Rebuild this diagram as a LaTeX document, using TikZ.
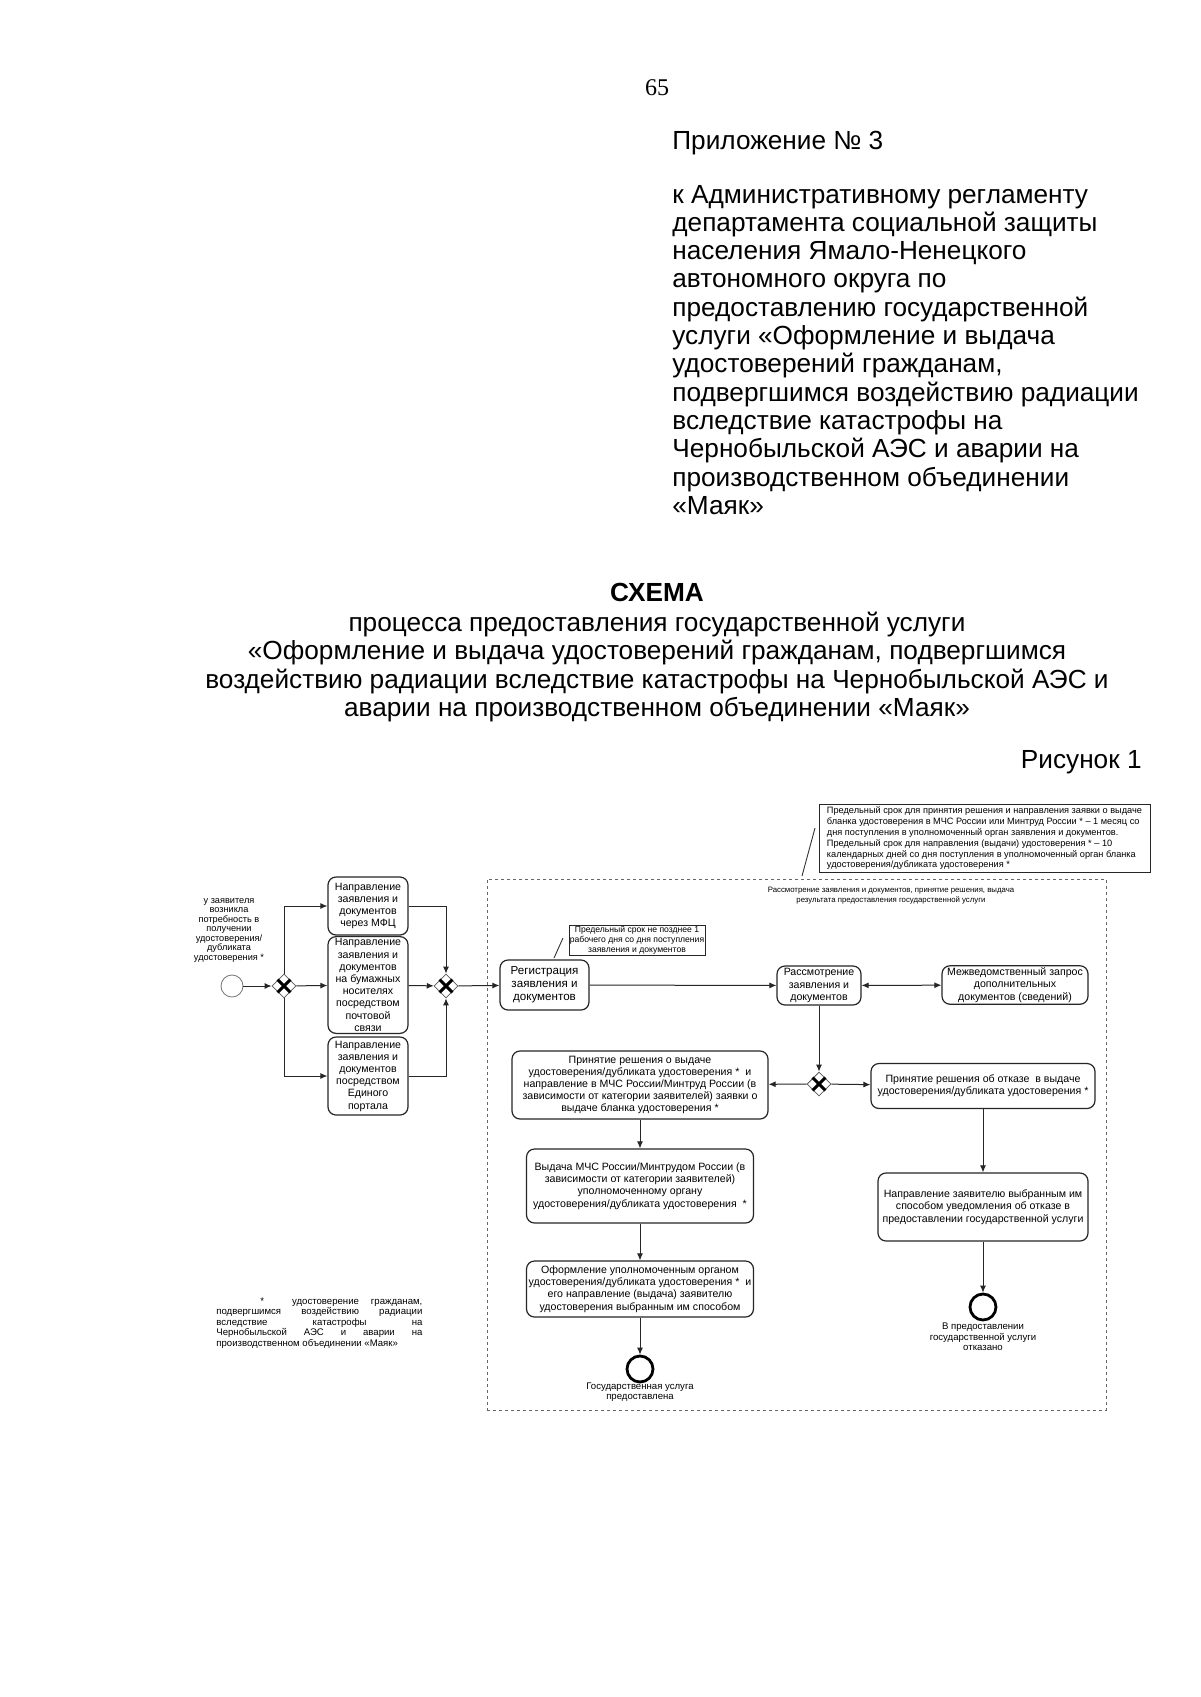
\documentclass[tikz,border=0pt]{standalone}
\usepackage{fontspec}
\setmainfont{Liberation Sans}
\newfontfamily\seriffnt{Liberation Serif}
\usetikzlibrary{shapes.geometric,arrows.meta}
\begin{document}
\begin{tikzpicture}[x=0.5pt,y=-0.5pt,
  hdr/.style={font=\fontsize{13.1}{14.15}\selectfont, inner sep=0pt, anchor=base west},
  ttl/.style={font=\fontsize{13.1}{14.15}\selectfont, inner sep=0pt, anchor=base},
  task/.style={draw=black!85, line width=0.6pt, rounded corners=4pt, align=center,
    font=\fontsize{5.3}{6.1}\selectfont, inner sep=1pt},
  gw/.style={draw=black!65, diamond, line width=0.4pt, minimum width=12pt, minimum height=12pt, inner sep=0pt},
  arr/.style={-{Latex[length=3.5pt,width=3pt]}, line width=0.5pt, draw=black!85},
  darr/.style={{Latex[length=3.5pt,width=3pt]}-{Latex[length=3.5pt,width=3pt]}, line width=0.5pt, draw=black!85},
  assoc/.style={line width=0.45pt, draw=black!80},
  note/.style={draw=black!85, line width=0.45pt, inner sep=1.5pt},
  small/.style={font=\fontsize{4.8}{5.3}\selectfont, inner sep=0pt, align=center},
  endev/.style={circle, draw=black, line width=1.4pt, minimum size=13pt, inner sep=0pt},
  xmark/.style={line width=1.5pt, line cap=butt}
]
\useasboundingbox[fill=white] (0,0) rectangle (1200,1697);

% ---------- header ----------
\node[font=\seriffnt\fontsize{12}{12}\selectfont, inner sep=0pt, anchor=base] (pg) at (657,95) {65};
\node[hdr] (app) at (672,149) {Приложение № 3};
\node[hdr] (p1) at (672,203) {к Административному регламенту};
\node[hdr] (p2) at (672,231.3) {департамента социальной защиты};
\node[hdr] (p3) at (672,259.6) {населения Ямало-Ненецкого};
\node[hdr] (p4) at (672,287.9) {автономного округа по};
\node[hdr] (p5) at (672,316.2) {предоставлению государственной};
\node[hdr] (p6) at (672,344.5) {услуги «Оформление и выдача};
\node[hdr] (p7) at (672,372.8) {удостоверений гражданам,};
\node[hdr] (p8) at (672,401.1) {подвергшимся воздействию радиации};
\node[hdr] (p9) at (672,429.4) {вследствие катастрофы на};
\node[hdr] (p10) at (672,457.7) {Чернобыльской АЭС и аварии на};
\node[hdr] (p11) at (672,486) {производственном объединении};
\node[hdr] (p12) at (672,514.3) {«Маяк»};

\node[ttl, font=\fontsize{13.1}{14.15}\selectfont\bfseries] (t0) at (657,601) {СХЕМА};
\node[ttl] (t1) at (657,631) {процесса предоставления государственной услуги};
\node[ttl] (t2) at (657,659) {«Оформление и выдача удостоверений гражданам, подвергшимся};
\node[ttl] (t3) at (657,688) {воздействию радиации вследствие катастрофы на Чернобыльской АЭС и};
\node[ttl] (t4) at (657,716) {аварии на производственном объединении «Маяк»};
\node[ttl, anchor=base east] (fig) at (1142,768) {Рисунок 1};

% ---------- group ----------
\node[draw=black!60, line width=0.4pt, dash pattern=on 1.6pt off 1.4pt, minimum width=309.5pt, minimum height=265.5pt, inner sep=0pt] (grp) at (796.5,1144.5) {};
\node[small, font=\fontsize{3.9}{4.9}\selectfont] (grplbl) at (891,896) {Рассмотрение заявления и документов, принятие решения, выдача\\результата предоставления государственной услуги};

% top note
\node[note, align=left, font=\fontsize{4.6}{5.4}\selectfont, minimum width=165.5pt, minimum height=33.5pt, anchor=center] (n1) at (984.5,838.5) {Предельный срок для принятия решения и направления заявки о выдаче\\бланка удостоверения в МЧС России или Минтруд России * -- 1 месяц со\\дня поступления в уполномоченный орган заявления и документов.\\Предельный срок для направления (выдачи) удостоверения * -- 10\\календарных дней со дня поступления в уполномоченный орган бланка\\удостоверения/дубликата удостоверения *};
\coordinate (n1a) at (802,876);
\coordinate (n1b) at (815,828);
\draw[assoc] (n1a) -- (n1b);

% ---------- left part ----------
\node[small, font=\fontsize{4.6}{4.75}\selectfont] (slbl) at (229,930) {у заявителя\\возникла\\потребность в\\получении\\удостоверения/\\дубликата\\удостоверения *};
\node[circle, draw=black!55, line width=0.4pt, minimum size=11pt, inner sep=0pt] (S) at (232,986) {};
\node[gw] (g1) at (284,986) {};
\node[gw] (g2) at (446,986) {};

\node[task, minimum width=40pt, minimum height=29pt] (b1) at (368,906) {Направление\\заявления и\\документов\\через МФЦ};
\node[task, minimum width=40pt, minimum height=43pt] (b2) at (368,985) {Направление\\заявления и\\документов\\на бумажных\\носителях\\посредством\\почтовой\\связи};
\node[task, minimum width=40pt, minimum height=39pt] (b3) at (368,1076) {Направление\\заявления и\\документов\\посредством\\Единого\\портала};

\draw[arr] (S) -- (g1);
\draw[arr] (g1) -- (b2);
\draw[arr] (g1.north) |- (b1.west);
\draw[arr] (g1.south) |- (b3.west);
\draw[arr] (b1.east) -| (g2.north);
\draw[arr] (b2) -- (g2);
\draw[arr] (b3.east) -| (g2.south);

% ---------- registration ----------
\node[task, minimum width=44.5pt, minimum height=25pt, font=\fontsize{5.8}{6.6}\selectfont] (reg) at (544.5,985) {Регистрация\\заявления и\\документов};
\node[note, small, font=\fontsize{4.3}{5.1}\selectfont, minimum width=68pt, minimum height=15pt] (n2) at (637,940) {Предельный срок не позднее 1\\рабочего дня со дня поступления\\заявления и документов};
\coordinate (n2a) at (554,958);
\coordinate (n2b) at (563,938);
\draw[assoc] (n2a) -- (n2b);

\node[task, minimum width=42pt, minimum height=19.5pt] (rass) at (819,985.5) {Рассмотрение\\заявления и\\документов};
\node[task, minimum width=73pt, minimum height=18pt] (mezh) at (1015,985) {Межведомственный запрос\\дополнительных\\документов (сведений)};

\draw[arr] (g2) -- (reg);
\draw[arr] (reg) -- (rass);
\draw[darr] (rass) -- (mezh);

\node[gw] (g3) at (819,1084) {};
\draw[arr] (rass) -- (g3);

\node[task, minimum width=128pt, minimum height=34pt] (dec1) at (640,1085) {Принятие решения о выдаче\\удостоверения/дубликата удостоверения *\ \ и\\направление в МЧС России/Минтруд России (в\\зависимости от категории заявителей) заявки о\\выдаче бланка удостоверения *};
\node[task, minimum width=112pt, minimum height=22.5pt] (dec2) at (983,1086) {Принятие решения об отказе\ \ в выдаче\\удостоверения/дубликата удостоверения *};
\draw[arr] (g3) -- (dec1);
\draw[arr] (g3) -- (dec2);

\node[task, minimum width=113.5pt, minimum height=37pt] (vyd) at (640,1186) {Выдача МЧС России/Минтрудом России (в\\зависимости от категории заявителей)\\уполномоченному органу\\удостоверения/дубликата удостоверения\ \ *};
\node[task, minimum width=113.5pt, minimum height=28pt] (ofo) at (640,1289) {Оформление уполномоченным органом\\удостоверения/дубликата удостоверения *\ \ и\\его направление (выдача) заявителю\\удостоверения выбранным им способом};
\node[endev] (e1) at (640,1369) {};
\node[small] (e1l) at (640,1392) {Государственная услуга\\предоставлена};

\draw[arr] (dec1) -- (vyd);
\draw[arr] (vyd) -- (ofo);
\draw[arr] (ofo) -- (e1);

\node[task, minimum width=105pt, minimum height=34pt] (napr) at (983,1207) {Направление заявителю выбранным им\\способом уведомления об отказе в\\предоставлении государственной услуги};
\node[endev] (e2) at (983,1307) {};
\node[small] (e2l) at (983,1337) {В предоставлении\\государственной услуги\\отказано};
\draw[arr] (dec2) -- (napr);
\draw[arr] (napr) -- (e2);

% gateway crosses
\foreach \g in {g1,g2,g3}{
  \draw[xmark] ([shift={(-3.2pt,-3.2pt)}]\g.center) -- ([shift={(3.2pt,3.2pt)}]\g.center);
  \draw[xmark] ([shift={(-3.2pt,3.2pt)}]\g.center) -- ([shift={(3.2pt,-3.2pt)}]\g.center);
}

% footnote
\node[inner sep=0pt, text width=103pt, align=justify, anchor=north west, font=\fontsize{4.8}{5.3}\selectfont] (fn) at (216,1297) {\hspace*{22pt}*\hspace{8pt} удостоверение гражданам,\linebreak подвергшимся воздействию радиации\linebreak вследствие катастрофы на\linebreak Чернобыльской АЭС и аварии на\linebreak производственном объединении «Маяк»};
\end{tikzpicture}
\end{document}
